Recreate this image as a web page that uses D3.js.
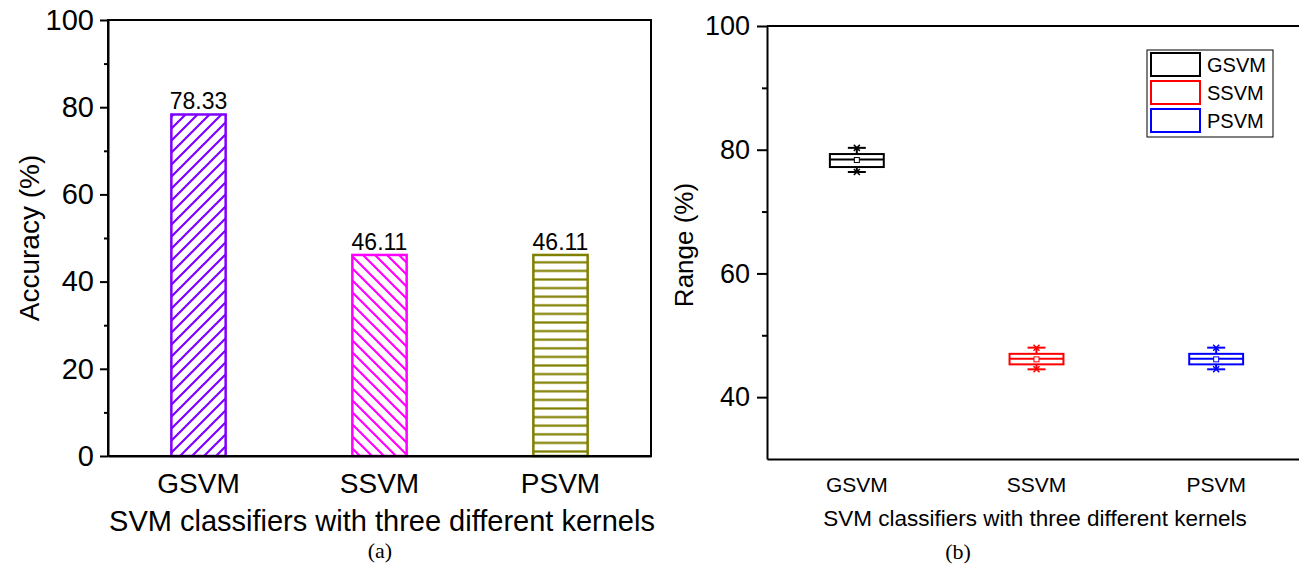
<!DOCTYPE html>
<html>
<head>
<meta charset="utf-8">
<script src="https://cdn.jsdelivr.net/npm/d3@7"></script>
<style>
  body { margin: 0; background: #fff; }
  text { font-family: "Liberation Sans", Arial, sans-serif; fill: #000; }
  .domain { stroke: #000; stroke-width: 2px; }
  .tick line { stroke: #000; stroke-width: 2px; }
</style>
</head>
<body>
<div id="chart"></div>
<script>
// data
var categories = ["GSVM", "SSVM", "PSVM"];
var accuracy = [78.33, 46.11, 46.11];
var barColors = ["#8000ff", "#ff00ff", "#808000"];
var boxColors = ["#000000", "#ff0000", "#0000ff"];
// box stats: whisker low, q1, median, q3, whisker high, mean
var whiskerLow = [76.4, 44.5, 44.5];
var q1 = [77.2, 45.3, 45.3];
var median = [78.4, 46.2, 46.2];
var q3 = [79.3, 47.0, 47.0];
var whiskerHigh = [80.3, 48.0, 48.0];
var means = [78.33, 46.11, 46.11];
var leftTicks = [0, 20, 40, 60, 80, 100];
var leftMinor = [10, 30, 50, 70, 90];
var rightTicks = [40, 60, 80, 100];
var rightMinor = [50, 70, 90];

var svg = d3.select("#chart").append("svg")
  .attr("width", 1299)
  .attr("height", 567);

var defs = svg.append("defs");

// hatch patterns for the bars
function hatch(id, color, d, size) {
  var p = defs.append("pattern")
    .attr("id", id)
    .attr("patternUnits", "userSpaceOnUse")
    .attr("width", size)
    .attr("height", size);
  p.append("path")
    .attr("d", d)
    .attr("stroke", color)
    .attr("stroke-width", 2.2)
    .attr("fill", "none");
}
hatch("h0", barColors[0], "M-3,3 L3,-3 M0,12 L12,0 M9,15 L15,9", 12);
hatch("h1", barColors[1], "M-3,9 L3,15 M0,0 L12,12 M9,-3 L15,3", 12);
hatch("h2", barColors[2], "M0,4.3 L8.6,4.3", 8.6);

/////////////// panel (a) ///////////////
var xA = d3.scaleBand().domain(categories).range([108, 651])
  .paddingInner(0.7).paddingOuter(0.35);
var yA = d3.scaleLinear().domain([0, 100]).range([456, 20]);

var gA = svg.append("g");

gA.selectAll(".bar")
  .data(categories)
  .enter()
  .append("rect")
  .attr("x", d => xA(d))
  .attr("y", (d, i) => yA(accuracy[i]))
  .attr("width", xA.bandwidth())
  .attr("height", (d, i) => yA(0) - yA(accuracy[i]))
  .attr("fill", (d, i) => "url(#h" + i + ")")
  .attr("stroke", (d, i) => barColors[i])
  .attr("stroke-width", 2.5);

gA.selectAll(".val")
  .data(categories)
  .enter()
  .append("text")
  .attr("x", d => xA(d) + xA.bandwidth() / 2)
  .attr("y", (d, i) => yA(accuracy[i]) - 5)
  .attr("text-anchor", "middle")
  .attr("font-size", "23px")
  .text((d, i) => accuracy[i].toFixed(2));

// frame
gA.append("rect")
  .attr("x", 108).attr("y", 20)
  .attr("width", 543).attr("height", 436)
  .attr("fill", "none")
  .attr("stroke", "#000")
  .attr("stroke-width", 2);

gA.append("g")
  .attr("transform", "translate(108,0)")
  .call(d3.axisLeft(yA).tickValues(leftTicks).tickSize(8).tickSizeOuter(0).tickPadding(6))
  .selectAll("text").attr("font-size", "29px");
gA.append("g")
  .attr("transform", "translate(108,0)")
  .call(d3.axisLeft(yA).tickValues(leftMinor).tickSize(4).tickSizeOuter(0).tickFormat(""))
  .select(".domain").remove();

gA.append("g")
  .attr("transform", "translate(0,456)")
  .call(d3.axisBottom(xA).tickSize(0).tickPadding(17))
  .selectAll("text").attr("font-size", "28px");

gA.append("text")
  .attr("transform", "rotate(-90)")
  .attr("x", -238)
  .attr("y", 39)
  .attr("text-anchor", "middle")
  .attr("font-size", "28px")
  .text("Accuracy (%)");

gA.append("text")
  .attr("x", 382)
  .attr("y", 531)
  .attr("text-anchor", "middle")
  .attr("font-size", "29px")
  .text("SVM classifiers with three different kernels");

gA.append("text")
  .attr("x", 380)
  .attr("y", 558)
  .attr("text-anchor", "middle")
  .attr("font-size", "22px")
  .style("font-family", "'Liberation Serif', 'Times New Roman', serif")
  .text("(a)");

/////////////// panel (b) ///////////////
var xB = d3.scaleBand().domain(categories).range([767, 1306])
  .paddingInner(0.7).paddingOuter(0.35);
var yB = d3.scaleLinear().domain([30, 100]).range([459, 26]);

var gB = svg.append("g");

gB.append("line")
  .attr("x1", 767).attr("x2", 1299)
  .attr("y1", 26).attr("y2", 26)
  .attr("stroke", "#000").attr("stroke-width", 2);

gB.append("g")
  .attr("transform", "translate(767,0)")
  .call(d3.axisLeft(yB).tickValues(rightTicks).tickSize(10).tickSizeOuter(0).tickPadding(7))
  .selectAll("text").attr("font-size", "27px");
gB.append("g")
  .attr("transform", "translate(767,0)")
  .call(d3.axisLeft(yB).tickValues(rightMinor).tickSize(5).tickSizeOuter(0).tickFormat(""))
  .select(".domain").remove();

gB.append("g")
  .attr("transform", "translate(0,459)")
  .call(d3.axisBottom(xB).tickSize(0).tickPadding(18))
  .selectAll("text").attr("font-size", "21px");

gB.append("text")
  .attr("transform", "rotate(-90)")
  .attr("x", -245)
  .attr("y", 693)
  .attr("text-anchor", "middle")
  .attr("font-size", "26px")
  .text("Range (%)");

gB.append("text")
  .attr("x", 1035)
  .attr("y", 526)
  .attr("text-anchor", "middle")
  .attr("font-size", "22.5px")
  .text("SVM classifiers with three different kernels");

gB.append("text")
  .attr("x", 958)
  .attr("y", 559)
  .attr("text-anchor", "middle")
  .attr("font-size", "22px")
  .style("font-family", "'Liberation Serif', 'Times New Roman', serif")
  .text("(b)");

// box plots
var boxes = gB.selectAll(".box")
  .data(categories)
  .enter()
  .append("g")
  .attr("transform", d => "translate(" + (xB(d) + xB.bandwidth() / 2) + ",0)")
  .attr("stroke", (d, i) => boxColors[i])
  .attr("fill", "none")
  .attr("stroke-width", 2);

var bw = xB.bandwidth();
var cap = 9;

// whisker stems
boxes.append("line")
  .attr("x1", 0).attr("x2", 0)
  .attr("y1", (d, i) => yB(whiskerHigh[i]))
  .attr("y2", (d, i) => yB(q3[i]));
boxes.append("line")
  .attr("x1", 0).attr("x2", 0)
  .attr("y1", (d, i) => yB(q1[i]))
  .attr("y2", (d, i) => yB(whiskerLow[i]));
// caps
boxes.append("line")
  .attr("x1", -cap).attr("x2", cap)
  .attr("y1", (d, i) => yB(whiskerHigh[i]))
  .attr("y2", (d, i) => yB(whiskerHigh[i]));
boxes.append("line")
  .attr("x1", -cap).attr("x2", cap)
  .attr("y1", (d, i) => yB(whiskerLow[i]))
  .attr("y2", (d, i) => yB(whiskerLow[i]));
// box
boxes.append("rect")
  .attr("x", -bw / 2)
  .attr("y", (d, i) => yB(q3[i]))
  .attr("width", bw)
  .attr("height", (d, i) => yB(q1[i]) - yB(q3[i]))
  .attr("fill", "#fff");
// median
boxes.append("line")
  .attr("x1", -bw / 2).attr("x2", bw / 2)
  .attr("y1", (d, i) => yB(median[i]))
  .attr("y2", (d, i) => yB(median[i]));
// mean square
boxes.append("rect")
  .attr("x", -2.5)
  .attr("y", (d, i) => yB(means[i]) - 2.5)
  .attr("width", 5).attr("height", 5)
  .attr("stroke-width", 1)
  .attr("fill", "#fff");
// x markers at whisker ends
function cross(sel, vals) {
  sel.append("path")
    .attr("stroke-width", 1.5)
    .attr("d", (d, i) => {
      var y = yB(vals[i]);
      return "M-3," + (y - 3) + "L3," + (y + 3) + "M-3," + (y + 3) + "L3," + (y - 3);
    });
}
cross(boxes, whiskerHigh);
cross(boxes, whiskerLow);

// legend
var legend = gB.append("g");
legend.append("rect")
  .attr("x", 1147).attr("y", 50)
  .attr("width", 126).attr("height", 87)
  .attr("fill", "#fff")
  .attr("stroke", "#000")
  .attr("stroke-width", 1);

var items = legend.selectAll(".item")
  .data(categories)
  .enter()
  .append("g")
  .attr("transform", (d, i) => "translate(1151," + (53 + i * 28) + ")");
items.append("rect")
  .attr("width", 49).attr("height", 23)
  .attr("fill", "none")
  .attr("stroke", (d, i) => boxColors[i])
  .attr("stroke-width", 2);
items.append("text")
  .attr("x", 56)
  .attr("y", 19)
  .attr("font-size", "20px")
  .text(d => d);
</script>
</body>
</html>
